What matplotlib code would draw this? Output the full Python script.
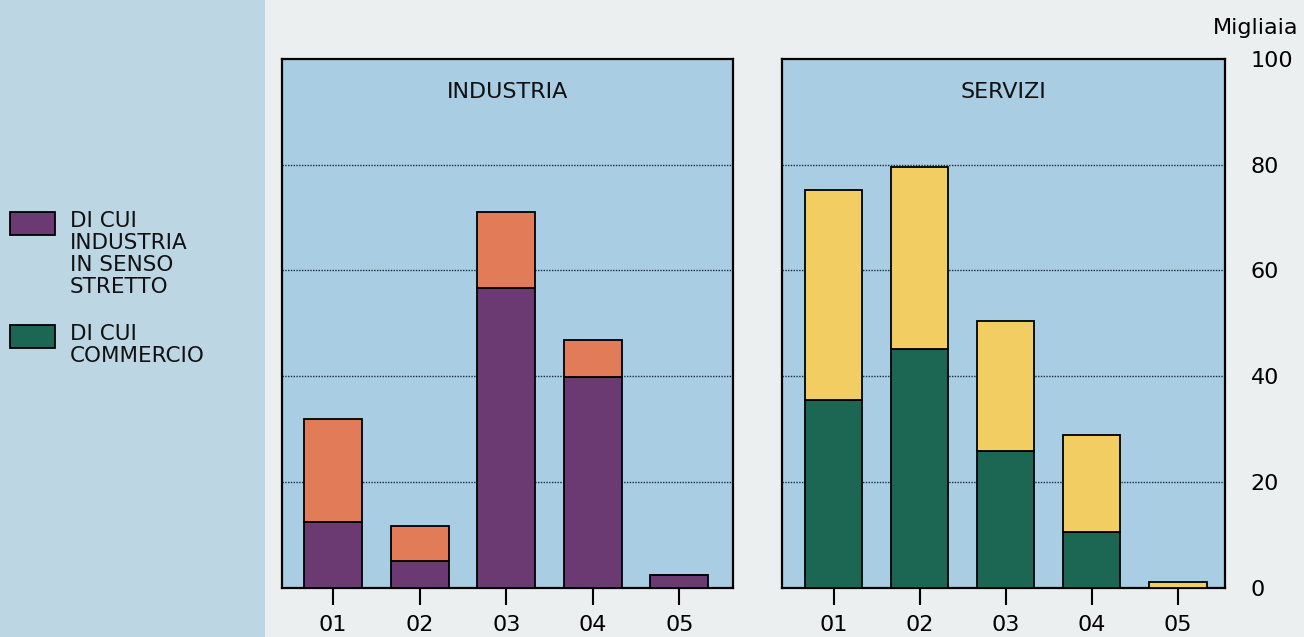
import matplotlib
matplotlib.use("Agg")
import matplotlib.pyplot as plt
from matplotlib.patches import Rectangle
import numpy as np

categories = ["01", "02", "03", "04", "05"]
# Industria: total and "di cui industria in senso stretto"
ind_stretto = [12.4, 5.1, 56.6, 39.8, 2.3]
ind_total = [31.8, 11.7, 71.0, 46.8, 2.3]
# Servizi: total and "di cui commercio"
serv_commercio = [35.5, 45.2, 25.8, 10.5, 0.0]
serv_total = [75.2, 79.6, 50.5, 28.8, 1.1]
yticks = [0, 20, 40, 60, 80, 100]
legend_labels = ["DI CUI\nINDUSTRIA\nIN SENSO\nSTRETTO", "DI CUI\nCOMMERCIO"]

PURPLE = "#6b3a73"
ORANGE = "#e27b58"
GREEN = "#1c6654"
YELLOW = "#f1cd62"
AXBG = "#a9cde2"

plt.rcParams['font.family'] = ['DejaVu Sans']
fig = plt.figure(figsize=(13.04, 6.37), dpi=100, facecolor="#eceff0")
# bluish band behind the legend
fig.patches.append(Rectangle((0, 0), 265 / 1304, 1, transform=fig.transFigure,
                             facecolor="#bdd6e4", edgecolor="none", zorder=0))

ax1 = fig.add_axes([282 / 1304, 1 - 587.5 / 637, 451 / 1304, 528.5 / 637])
ax2 = fig.add_axes([782 / 1304, 1 - 587.5 / 637, 443 / 1304, 528.5 / 637])

x = np.arange(len(categories))
w = 0.67

def draw(ax, base, total, c_base, c_top, title, xlim):
    ax.set_facecolor(AXBG)
    top = [t - b for t, b in zip(total, base)]
    ax.bar(x, base, w, color=c_base, edgecolor="black", linewidth=1.3, zorder=3)
    ax.bar(x, top, w, bottom=base, color=c_top, edgecolor="black", linewidth=1.3, zorder=3)
    ax.set_ylim(0, 100)
    ax.set_xlim(*xlim)
    ax.set_yticks(yticks)
    for g in yticks[1:-1]:
        ax.axhline(g, color="#1a2a40", linestyle=(0, (1, 1)), linewidth=1.0, zorder=1)
    ax.set_xticks(x)
    ax.set_xticklabels(categories, fontsize=16)
    ax.tick_params(axis="x", direction="out", length=12, width=1.5, pad=8, colors="black")
    for s in ax.spines.values():
        s.set_linewidth(1.6)
        s.set_color("black")
    ax.text(0.5, 0.937, title, transform=ax.transAxes, ha="center", va="center",
            fontsize=16, color="#111111")

draw(ax1, ind_stretto, ind_total, PURPLE, ORANGE, "INDUSTRIA", (-0.59, 4.62))
draw(ax2, serv_commercio, serv_total, GREEN, YELLOW, "SERVIZI", (-0.60, 4.55))

ax1.tick_params(axis="y", left=False, labelleft=False)
ax2.yaxis.tick_right()
ax2.tick_params(axis="y", right=False, left=False, labelleft=False, labelright=True,
                labelsize=16, pad=15)
for lab in ax2.get_yticklabels():
    lab.set_horizontalalignment("left")

fig.text(1298 / 1304, 1 - 28 / 637, "Migliaia", ha="right", va="center", fontsize=16)

# legend
for (ytop, col, lab) in [(212, PURPLE, legend_labels[0]), (325, GREEN, legend_labels[1])]:
    fig.patches.append(Rectangle((10 / 1304, 1 - (ytop + 23) / 637), 45 / 1304, 23 / 637,
                                 transform=fig.transFigure, facecolor=col,
                                 edgecolor="black", linewidth=1.3, zorder=2))
    fig.text(70 / 1304, 1 - (ytop - 1) / 637, lab, ha="left", va="top",
             fontsize=15.5, linespacing=1.12, color="#111111")

fig.savefig("out.png", dpi=100, facecolor=fig.get_facecolor())
